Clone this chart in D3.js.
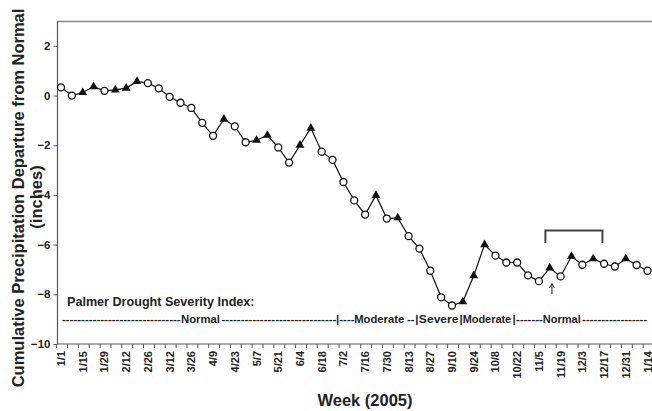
<!DOCTYPE html>
<html>
<head>
<meta charset="utf-8">
<script src="https://cdn.jsdelivr.net/npm/d3@7/dist/d3.min.js"></script>
<style>
  html, body { margin: 0; padding: 0; background: #fff; }
  svg { display: block; font-family: "Liberation Sans", Arial, sans-serif; }
</style>
</head>
<body>
<svg id="chart" width="652" height="411"></svg>
<script>
// ---- data ----
const weeks = ["1/1","1/8","1/15","1/22","1/29","2/5","2/12","2/19","2/26","3/5","3/12","3/19","3/26","4/2","4/9","4/16","4/23","4/30","5/7","5/14","5/21","5/28","6/4","6/11","6/18","6/25","7/2","7/9","7/16","7/23","7/30","8/6","8/13","8/20","8/27","9/3","9/10","9/17","9/24","10/1","10/8","10/15","10/22","10/29","11/5","11/12","11/19","11/26","12/3","12/10","12/17","12/24","12/31","1/7","1/14"];
const departure = [0.33,0.0,0.12,0.36,0.19,0.23,0.30,0.57,0.50,0.29,-0.05,-0.29,-0.50,-1.10,-1.62,-0.95,-1.24,-1.88,-1.80,-1.60,-2.09,-2.70,-2.00,-1.31,-2.26,-2.59,-3.48,-4.22,-4.79,-4.02,-4.95,-4.92,-5.66,-6.16,-7.05,-8.12,-8.45,-8.30,-7.25,-6.00,-6.44,-6.72,-6.72,-7.24,-7.47,-6.94,-7.28,-6.47,-6.81,-6.57,-6.77,-6.88,-6.57,-6.82,-7.05];
// marker type: c = open circle, t = filled triangle
const markerType = ["c","c","t","t","c","t","t","t","c","c","c","c","c","c","c","t","c","c","t","t","c","c","t","t","c","c","c","c","c","t","c","t","c","c","c","c","c","t","t","t","c","c","c","c","c","t","c","t","c","t","c","c","t","c","c"];
const tickLabels = weeks.filter((d, i) => i % 2 === 0);
const yTicks = [2, 0, -2, -4, -6, -8, -10];
const pdsiLabel = "Palmer Drought Severity Index:";
// PDSI row: [start week index (fractional), end week index, label]
const pdsiSegments = [
  [0.09, 10.96, "dash"], [11.05, 14.64, "Normal"], [14.78, 25.22, "dash"],
  [25.32, null, "|"], [25.62, 26.9, "dash"], [27.0, 31.6, "Moderate"],
  [31.85, 32.6, "dash"], [32.62, null, "|"], [32.95, 36.6, "Severe"],
  [36.68, null, "|"], [36.98, 41.45, "Moderate"], [41.58, null, "|"],
  [41.9, 44.3, "dash"], [44.35, 47.85, "Normal"], [47.98, 55, "dash"]
];

// ---- layout ----
const W = 652, H = 411;
const plotL = 57.5, plotT = 21, plotB = 344;
const x0px = 61, x1px = 647.5;
const svg = d3.select("#chart");
svg.append("rect").attr("width", W).attr("height", H).attr("fill", "#fff");

const x = d3.scalePoint().domain(weeks).range([x0px, x1px]);
const step = x.step();
const xi = i => x0px + i * step;
const y = d3.scaleLinear().domain([-10, 3]).range([plotB, plotT]);
const FONT = "'Liberation Sans', Arial, sans-serif";

// frame: top border
svg.append("line").attr("x1", plotL).attr("x2", W).attr("y1", plotT + 0.5).attr("y2", plotT + 0.5)
  .attr("stroke", "#888").attr("stroke-width", 1.5);

// y axis
const yAxis = d3.axisLeft(y).tickValues(yTicks).tickSize(4).tickPadding(3).tickFormat(d3.format("d"));
const gy = svg.append("g").attr("transform", `translate(${plotL},0)`).call(yAxis);
gy.select(".domain").attr("d", `M-0,${plotT}V${plotB}`).attr("stroke", "#555").attr("stroke-width", 1.2);
gy.selectAll(".tick line").attr("stroke", "#555");
gy.selectAll(".tick text").attr("font-size", "11.5px").attr("font-weight", "bold").attr("fill", "#222")
  .attr("font-family", FONT);

// x axis
const gx = svg.append("g").attr("transform", `translate(0,${plotB})`);
gx.append("line").attr("x1", plotL).attr("x2", W).attr("stroke", "#555").attr("stroke-width", 1.2);
gx.selectAll("line.tk").data(weeks).join("line").attr("class", "tk")
  .attr("x1", d => x(d) - step * 0.4).attr("x2", d => x(d) - step * 0.4)
  .attr("y1", 0).attr("y2", 4).attr("stroke", "#555");
gx.selectAll("text.tl").data(tickLabels).join("text").attr("class", "tl")
  .attr("transform", d => `translate(${x(d) + 4},7) rotate(-90)`)
  .attr("text-anchor", "end")
  .attr("font-size", "11px").attr("font-weight", "bold").attr("fill", "#222")
  .text(d => d);

// axis titles
svg.append("text").attr("transform", `translate(24,198) rotate(-90)`).attr("text-anchor", "middle")
  .attr("font-size", "16.5px").attr("font-weight", "bold").attr("fill", "#222")
  .text("Cumulative Precipitation Departure from Normal");
svg.append("text").attr("transform", `translate(42,197) rotate(-90)`).attr("text-anchor", "middle")
  .attr("font-size", "16.5px").attr("font-weight", "bold").attr("fill", "#222")
  .text("(inches)");
svg.append("text").attr("x", 365).attr("y", 406).attr("text-anchor", "middle")
  .attr("font-size", "16.5px").attr("font-weight", "bold").attr("fill", "#222")
  .text("Week (2005)");

// PDSI annotation
svg.append("text").attr("x", 67).attr("y", 306)
  .attr("font-size", "12.6px").attr("font-weight", "bold").attr("fill", "#222").text(pdsiLabel);
const gp = svg.append("g");
pdsiSegments.forEach(([a, b, lab]) => {
  const s = xi(a);
  const t = gp.append("text").attr("x", s).attr("y", 323)
    .attr("font-size", "11.5px").attr("font-weight", "bold").attr("fill", "#222");
  if (lab === "dash") {
    const last = xi(b) >= W - 1;
    const e = Math.min(xi(b), W - 1);
    const n = Math.max(1, last ? Math.floor((e - s) / 3.83) : Math.round((e - s) / 3.83));
    t.text("-".repeat(n));
  } else if (b !== null) {
    t.text(lab).attr("textLength", xi(b) - s).attr("lengthAdjust", "spacingAndGlyphs");
  } else {
    t.text(lab);
  }
});

// bracket and arrow
svg.append("path")
  .attr("d", `M${xi(44.6)},243V230.5H${xi(49.85)}V243`)
  .attr("fill", "none").attr("stroke", "#444").attr("stroke-width", 2);
const ax = xi(45.2);
svg.append("line").attr("x1", ax).attr("x2", ax).attr("y1", 294).attr("y2", 285)
  .attr("stroke", "#222").attr("stroke-width", 1);
svg.append("path").attr("d", `M${ax - 2.5},288L${ax},283.5L${ax + 2.5},288`)
  .attr("fill", "none").attr("stroke", "#222").attr("stroke-width", 1);

// line
const data = weeks.map((w, i) => ({ w, v: departure[i], t: markerType[i] }));
svg.append("path").datum(data)
  .attr("d", d3.line().x(d => x(d.w)).y(d => y(d.v)))
  .attr("fill", "none").attr("stroke", "#111").attr("stroke-width", 1.2);

// markers
svg.selectAll("circle.m").data(data.filter(d => d.t === "c")).join("circle").attr("class", "m")
  .attr("cx", d => x(d.w)).attr("cy", d => y(d.v)).attr("r", 3.5)
  .attr("fill", "#fff").attr("stroke", "#111").attr("stroke-width", 1.3);
const tri = d3.symbol().type(d3.symbolTriangle).size(34);
svg.selectAll("path.t").data(data.filter(d => d.t === "t")).join("path").attr("class", "t")
  .attr("transform", d => `translate(${x(d.w)},${y(d.v)})`)
  .attr("d", tri).attr("fill", "#111");
</script>
</body>
</html>
